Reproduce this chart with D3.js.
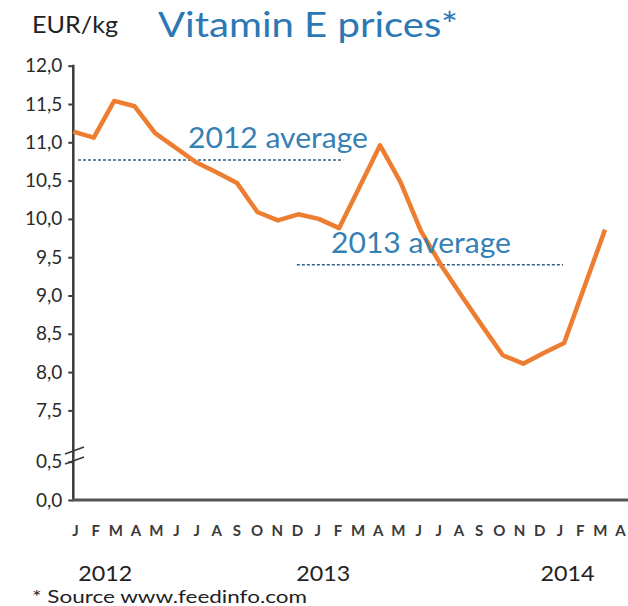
<!DOCTYPE html>
<html>
<head>
<meta charset="utf-8">
<script src="https://cdn.jsdelivr.net/npm/d3@7"></script>
<style>
  body { margin: 0; background: #fff; }
  svg { display: block; font-family: Lato, "Open Sans", sans-serif; }
</style>
</head>
<body>
<script>
// monthly prices, Jan 2012 .. Mar 2014 (EUR/kg)
var months = ["J","F","M","A","M","J","J","A","S","O","N","D",
              "J","F","M","A","M","J","J","A","S","O","N","D",
              "J","F","M","A"];
var prices = [11.14, 11.06, 11.54, 11.47, 11.12, 10.93, 10.74, 10.61, 10.47, 10.09, 9.98, 10.06,
              10.00, 9.88, 10.42, 10.96, 10.48, 9.84, 9.39, 8.99, 8.60, 8.22, 8.11, 8.25,
              8.38, 9.12, 9.86];
var years = ["2012", "2013", "2014"];
var yearAt = [1.5, 12.3, 24.4];          // month index under which the year sits
var topTicks = [7.5, 8, 8.5, 9, 9.5, 10, 10.5, 11, 11.5, 12];
var bottomTicks = [0, 0.5];
var averages = [
  {label: "2012 average", value: 10.77, from: 0.23, to: 13.2},
  {label: "2013 average", value: 9.40, from: 10.93, to: 23.95}
];

var width = 628, height = 606;

var svg = d3.select("body").append("svg")
    .attr("width", width)
    .attr("height", height);

var x = d3.scaleLinear()
    .domain([0, 27])
    .range([73.3, 625.5]);

// month letters sit on a slightly tighter grid than the data
var xLabel = x.copy().range([75, 620]);

// broken axis: upper part 7.5..12, lower part 0..0.5
var y = d3.scaleLinear()
    .domain([7.5, 12])
    .range([410.4, 65.7]);

var yLow = d3.scaleLinear()
    .domain([0, 0.5])
    .range([500, 461.7]);

var fmt = d3.formatLocale({decimal: ",", thousands: ".", grouping: [3], currency: ["", "€"]}).format(".1f");

// y axis, upper part and lower part
var gTop = svg.append("g")
    .attr("transform", "translate(73.3,0)")
    .call(d3.axisLeft(y).tickValues(topTicks).tickFormat(fmt).tickSize(5).tickPadding(6));

var gLow = svg.append("g")
    .attr("transform", "translate(73.3,0)")
    .call(d3.axisLeft(yLow).tickValues(bottomTicks).tickFormat(fmt).tickSize(5).tickPadding(6));

[gTop, gLow].forEach(function(g) {
  g.select(".domain").remove();
  g.selectAll(".tick line").attr("stroke", "#3a3a3a").attr("stroke-width", 2);
  g.selectAll(".tick text")
      .attr("fill", "#2a2a2a")
      .style("font-size", "19px")
      .style("font-family", "Lato, sans-serif");
});

// axis lines
svg.append("line")
    .attr("x1", 73.3).attr("x2", 73.3)
    .attr("y1", y(12) - 1).attr("y2", yLow(0))
    .attr("stroke", "#3a3a3a")
    .attr("stroke-width", 2.5);

svg.append("line")
    .attr("x1", 72).attr("x2", width)
    .attr("y1", yLow(0)).attr("y2", yLow(0))
    .attr("stroke", "#555")
    .attr("stroke-width", 3);

// axis break marks
[451, 461].forEach(function(yy) {
  svg.append("line")
      .attr("x1", 65).attr("y1", yy + 3)
      .attr("x2", 84).attr("y2", yy - 4)
      .attr("stroke", "#3a3a3a")
      .attr("stroke-width", 1.8);
});

// month letters
var gx = svg.append("g")
    .attr("transform", "translate(0," + yLow(0) + ")")
    .call(d3.axisBottom(xLabel).tickValues(d3.range(months.length)).tickFormat(function(i) { return months[i]; }).tickSize(0));
gx.select(".domain").remove();
gx.selectAll(".tick text")
    .attr("y", 25)
    .attr("fill", "#3a3a3a")
    .style("font-size", "15px")
    .style("font-weight", "bold")
    .style("font-family", "Lato, sans-serif");

// year labels
svg.selectAll(".year")
    .data(years)
  .enter().append("text")
    .attr("class", "year")
    .attr("x", function(d, i) { return xLabel(yearAt[i]) - 27; })
    .attr("y", 581)
    .attr("textLength", 54)
    .attr("lengthAdjust", "spacingAndGlyphs")
    .attr("fill", "#222")
    .style("font-size", "22px")
    .text(function(d) { return d; });

// average lines
svg.selectAll(".avg")
    .data(averages)
  .enter().append("line")
    .attr("class", "avg")
    .attr("x1", function(d) { return x(d.from); })
    .attr("x2", function(d) { return x(d.to); })
    .attr("y1", function(d) { return y(d.value); })
    .attr("y2", function(d) { return y(d.value); })
    .attr("stroke", "#2f5f8a")
    .attr("stroke-width", 1.5)
    .attr("stroke-dasharray", "3,2");

// price line
var line = d3.line()
    .x(function(d, i) { return x(i); })
    .y(function(d) { return y(d); });

svg.append("path")
    .datum(prices)
    .attr("fill", "none")
    .attr("stroke", "#ed7d31")
    .attr("stroke-width", 4.5)
    .attr("stroke-linejoin", "round")
    .attr("d", line);

// average labels
svg.selectAll(".avglabel")
    .data(averages)
  .enter().append("text")
    .attr("class", "avglabel")
    .attr("x", function(d, i) { return i == 0 ? 188 : 331; })
    .attr("y", function(d) { return y(d.value) - 12; })
    .attr("textLength", 180)
    .attr("lengthAdjust", "spacingAndGlyphs")
    .attr("fill", "#3580b5")
    .style("font-size", "29px")
    .text(function(d) { return d.label; });

// title and unit
svg.append("text")
    .attr("x", 158).attr("y", 37)
    .attr("textLength", 300)
    .attr("lengthAdjust", "spacingAndGlyphs")
    .attr("fill", "#2b78b5")
    .style("font-size", "34px")
    .text("Vitamin E prices*");

svg.append("text")
    .attr("x", 32).attr("y", 33)
    .attr("textLength", 86)
    .attr("lengthAdjust", "spacingAndGlyphs")
    .attr("fill", "#222")
    .style("font-size", "23px")
    .text("EUR/kg");

svg.append("text")
    .attr("x", 32).attr("y", 603)
    .attr("textLength", 275)
    .attr("lengthAdjust", "spacingAndGlyphs")
    .attr("fill", "#222")
    .style("font-size", "18px")
    .text("* Source www.feedinfo.com");
</script>
</body>
</html>
